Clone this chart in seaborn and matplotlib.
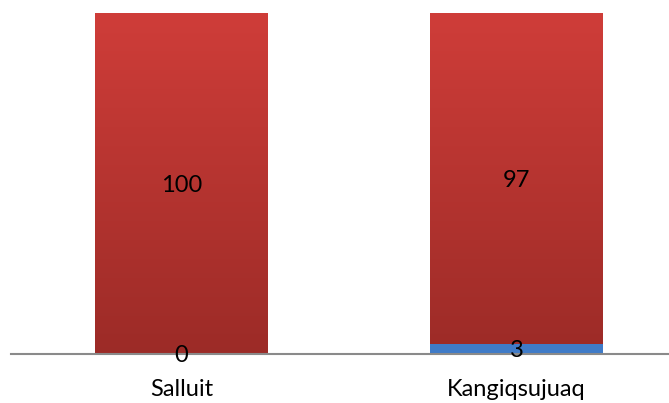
import numpy as np
import pandas as pd
import matplotlib
matplotlib.use("Agg")
import matplotlib.pyplot as plt
import seaborn as sns
from matplotlib.colors import LinearSegmentedColormap

# данні
communities = ["Salluit", "Kangiqsujuaq"]
blue_values = [0, 3]
red_values = [100, 97]

sns.set_theme(style="white")
plt.rcParams["font.family"] = ["Lato", "DejaVu Sans"]

fig = plt.figure(figsize=(6.69, 4.03), dpi=100)
ax = fig.add_axes([11 / 669, 49 / 403, 658 / 669, 341 / 403])

df = pd.DataFrame({"community": communities, "blue": blue_values, "red": red_values})
df["total"] = df["blue"] + df["red"]

# червоні (повна висота), потім сині знизу
sns.barplot(data=df, x="community", y="total", color="#b83530", width=0.516,
            saturation=1, linewidth=0, ax=ax)
sns.barplot(data=df, x="community", y="blue", color="#3f7bc8", width=0.516,
            saturation=1, linewidth=0, ax=ax)

red_cmap = LinearSegmentedColormap.from_list("red", ["#9c2b27", "#cf3d39"])
n_red = len(communities)
for p in ax.patches[:n_red]:
    x0, y0 = p.get_x(), p.get_y()
    w, h = p.get_width(), p.get_height()
    grad = np.linspace(0, 1, 256).reshape(-1, 1)
    im = ax.imshow(grad, cmap=red_cmap, aspect="auto", origin="lower",
                   extent=(x0, x0 + w, y0, y0 + h), zorder=p.get_zorder() + 0.1)
    im.set_clip_path(p)
    p.set_facecolor("none")
for p in ax.patches[n_red:]:
    p.set_zorder(3)
    p.set_edgecolor("none")

# підписи значень
for i, (b, r) in enumerate(zip(blue_values, red_values)):
    ax.text(i, b + r / 2, str(r), ha="center", va="center_baseline", fontsize=17, color="black", zorder=5)
    ax.text(i, b / 2, str(b), ha="center", va="center_baseline", fontsize=17, color="black", zorder=5)

ax.set_xlim(-170.5 / 335, 1 + 152.5 / 335)
ax.set_ylim(0, 100)
ax.set_xlabel("")
ax.set_ylabel("")
ax.set_yticks([])
ax.tick_params(axis="x", length=0, labelsize=17, pad=18, colors="black")
for s in ["top", "right", "left"]:
    ax.spines[s].set_visible(False)
ax.spines["bottom"].set_color("#8a8a8a")
ax.spines["bottom"].set_linewidth(1.5)
ax.spines["bottom"].set_zorder(4)
ax.patch.set_alpha(0)

fig.savefig("out.png", dpi=100)
